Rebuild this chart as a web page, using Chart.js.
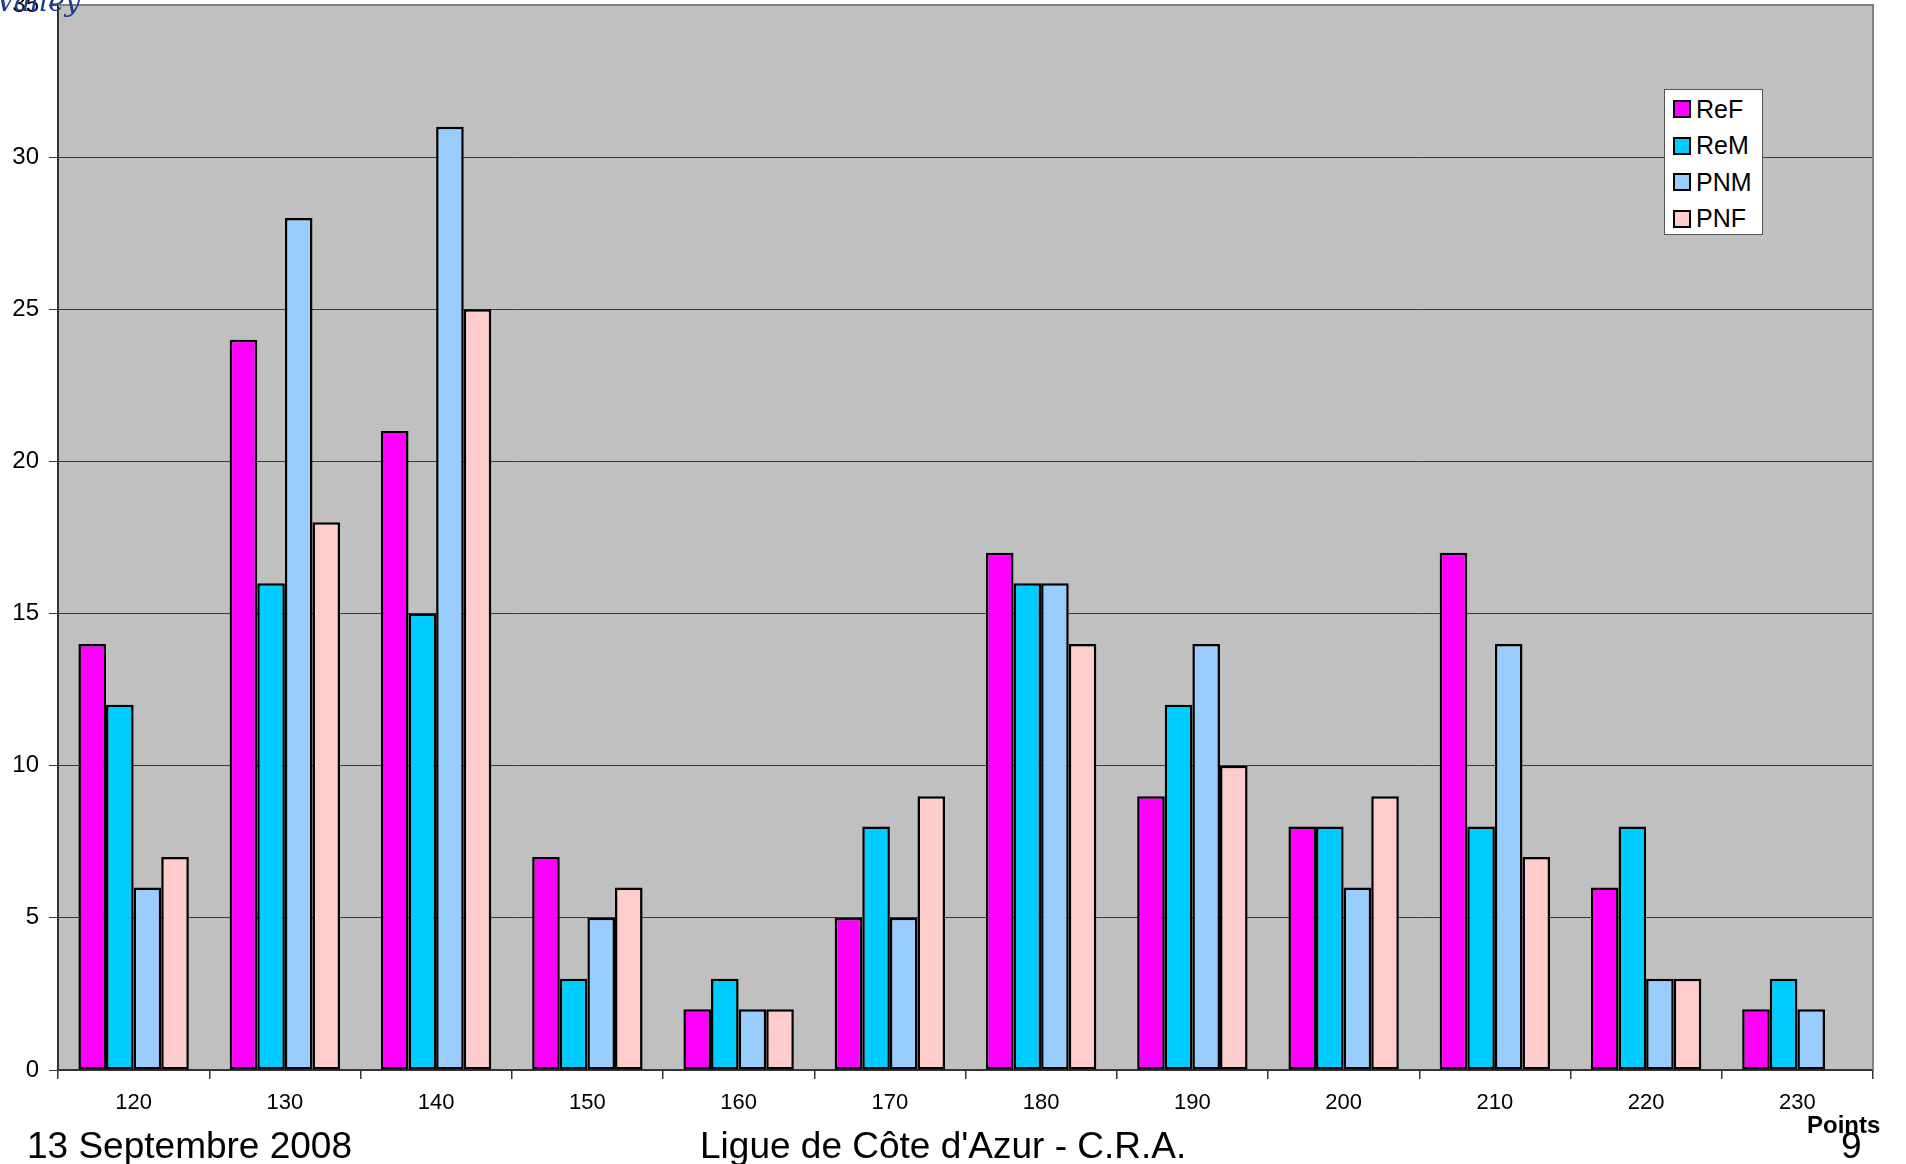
<!DOCTYPE html>
<html>
<head>
<meta charset="utf-8">
<script src="https://cdn.jsdelivr.net/npm/chart.js@4"></script>
<style>
    body { margin: 0; background: #fff; font-family: "Liberation Sans", Arial, sans-serif; }
    #wrap { position: relative; width: 1906px; height: 1164px; overflow: hidden; }
    #chart { position: absolute; left: 0; top: 0; }
    .txt { position: absolute; white-space: nowrap; color: #000; }
    #logo { left: -4px; top: -15px; font: italic 28px "DejaVu Serif", serif; color: #1c3c8c; }
    #date { left: 27px; top: 1125px; font-size: 37px; }
    #ligue { left: 700px; top: 1125px; font-size: 37px; }
    #page { left: 1841px; top: 1125px; font-size: 37px; }
    #points { left: 1807px; top: 1111px; font-size: 24px; font-weight: bold; }
    #legend { position: absolute; left: 1664px; top: 89px; width: 99px; height: 146px; background: #fff; border: 1px solid #555; box-sizing: border-box; padding-top: 1px; }
    .item { height: 36.5px; display: flex; align-items: center; font-size: 25px; padding-left: 8px; }
    .box { width: 14px; height: 14px; border: 2px solid #000; margin-right: 5px; }
</style>
</head>
<body>
<div id="wrap">
    <canvas id="chart" width="1906" height="1164"></canvas>
    <div class="txt" id="logo">Valley</div>
    <div id="legend"></div>
    <div class="txt" id="points">Points</div>
    <div class="txt" id="page">9</div>
    <div class="txt" id="date">13 Septembre 2008</div>
    <div class="txt" id="ligue">Ligue de Côte d'Azur - C.R.A.</div>
</div>
<script>
// Categories (points)
const categories = ['120', '130', '140', '150', '160', '170', '180', '190', '200', '210', '220', '230'];

// Series values
const ReF = [14, 24, 21, 7, 2, 5, 17, 9, 8, 17, 6, 2];
const ReM = [12, 16, 15, 3, 3, 8, 16, 12, 8, 8, 8, 3];
const PNM = [6, 28, 31, 5, 2, 5, 16, 14, 6, 14, 3, 2];
const PNF = [7, 18, 25, 6, 2, 9, 14, 10, 9, 7, 3, null];

const seriesNames = ['ReF', 'ReM', 'PNM', 'PNF'];
const seriesColors = ['#FF00FF', '#00CCFF', '#99CCFF', '#FFCCCC'];

// Y axis ticks
const yMax = 35;
const yStep = 5;

const datasets = [ReF, ReM, PNM, PNF].map((values, i) => ({
    label: seriesNames[i],
    data: values,
    backgroundColor: seriesColors[i],
    borderColor: '#000',
    borderWidth: 2.5,
    borderSkipped: false,
    categoryPercentage: 0.73,
    barPercentage: 1
}));

// Gray plot area + border
const plotArea = {
    id: 'plotArea',
    beforeDraw(chart) {
        const { ctx, chartArea: a } = chart;
        ctx.save();
        ctx.fillStyle = '#C0C0C0';
        ctx.fillRect(a.left, a.top, a.right - a.left, a.bottom - a.top);
        ctx.restore();
    },
    afterDraw(chart) {
        const { ctx, chartArea: a } = chart;
        ctx.save();
        ctx.strokeStyle = '#808080';
        ctx.lineWidth = 2;
        ctx.beginPath();
        ctx.moveTo(a.left, a.top);
        ctx.lineTo(a.right, a.top);
        ctx.lineTo(a.right, a.bottom);
        ctx.stroke();
        ctx.restore();
    }
};

new Chart(document.getElementById('chart'), {
    type: 'bar',
    data: { labels: categories, datasets: datasets },
    options: {
        responsive: false,
        animation: false,
        layout: { padding: { top: 5, right: 33, bottom: 0, left: 0 } },
        plugins: {
            legend: { display: false },
            tooltip: { enabled: false }
        },
        scales: {
            x: {
                offset: true,
                grid: {
                    offset: true,
                    drawOnChartArea: false,
                    tickLength: 9,
                    color: '#333',
                    lineWidth: 1.5
                },
                border: { color: '#333', width: 2 },
                ticks: {
                    color: '#000',
                    padding: 11,
                    font: { family: 'Liberation Sans', size: 22 }
                },
                afterFit(scale) { scale.height = 94; }
            },
            y: {
                min: 0,
                max: yMax,
                ticks: {
                    stepSize: yStep,
                    color: '#000',
                    padding: 10,
                    font: { family: 'Liberation Sans', size: 24 }
                },
                grid: {
                    color: '#3a3a3a',
                    lineWidth: 1,
                    tickLength: 9
                },
                border: { color: '#333', width: 2 },
                afterFit(scale) {
                    scale.width = 58;
                    scale.paddingTop = 0;
                    scale.paddingBottom = 0;
                }
            }
        }
    },
    plugins: [plotArea]
});

// HTML legend from the series
document.getElementById('legend').innerHTML = seriesNames.map((name, i) => `
    <div class="item"><span class="box" style="background:${seriesColors[i]}"></span>${name}</div>
`).join('');
</script>
</body>
</html>
